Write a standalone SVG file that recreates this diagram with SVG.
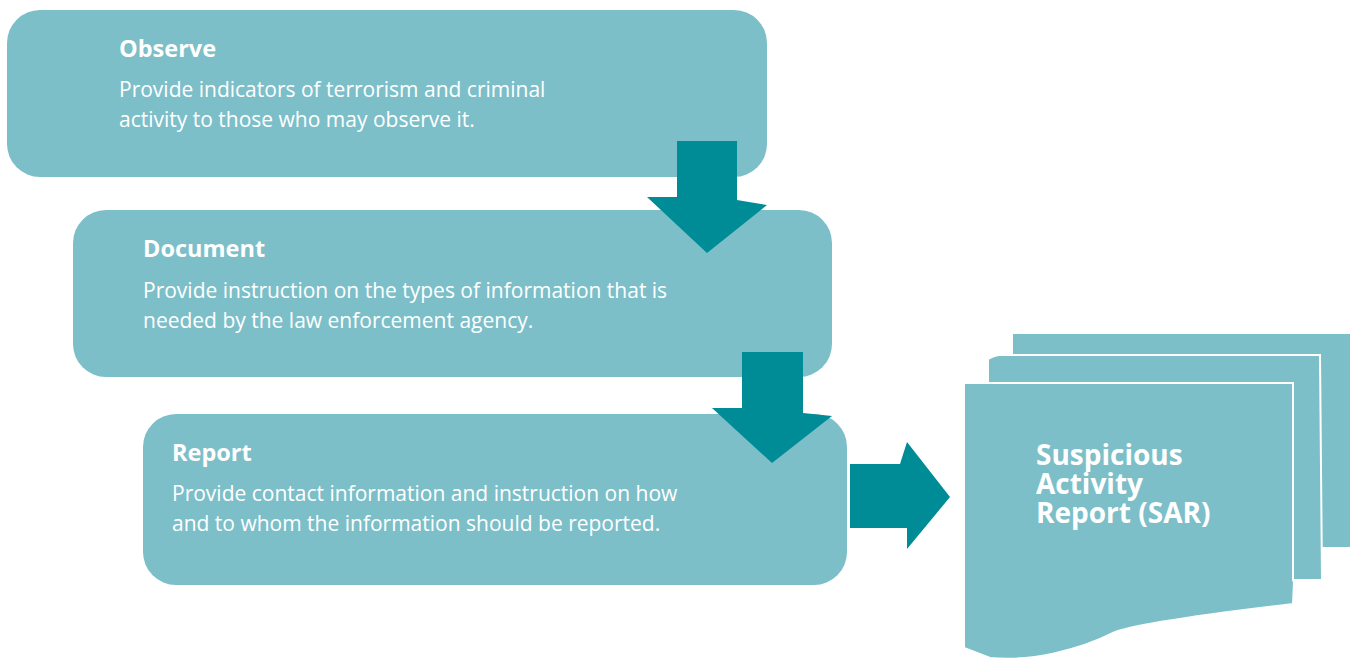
<svg xmlns="http://www.w3.org/2000/svg" width="1358" height="660" viewBox="0 0 1358 660">
<style>
.box{fill:#7CBFC9}
.arr{fill:#008C96}
.page{fill:#7CBFC9;stroke:#FFFFFF;stroke-width:2}
.h{font-family:"Open Sans","Noto Sans",sans-serif;font-weight:bold;font-size:23.5px;fill:#FFFFFF}
.t{font-family:"Open Sans","Noto Sans",sans-serif;font-size:21px;fill:#FFFFFF}
.sar{font-family:"Open Sans","Noto Sans",sans-serif;font-weight:bold;font-size:28px;fill:#FFFFFF}
</style>
<rect width="1358" height="660" fill="#FFFFFF"/>
<g id="observe">
<rect class="box" x="7" y="10" width="760" height="167" rx="33"/>
<text class="h" x="119" y="57">Observe</text>
<text class="t" x="119" y="97">Provide indicators of terrorism and criminal</text>
<text class="t" x="119" y="127">activity to those who may observe it.</text>
</g>
<g id="document">
<rect class="box" x="73" y="210" width="759" height="167" rx="33"/>
<text class="h" x="143" y="257">Document</text>
<text class="t" x="143" y="298">Provide instruction on the types of information that is</text>
<text class="t" x="143" y="328">needed by the law enforcement agency.</text>
</g>
<g id="report">
<rect class="box" x="143" y="414" width="704" height="171" rx="33"/>
<text class="h" x="172" y="461">Report</text>
<text class="t" x="172" y="501">Provide contact information and instruction on how</text>
<text class="t" x="172" y="531">and to whom the information should be reported.</text>
</g>
<g id="sar">
<path class="page" d="M1012,333 L1351,333 L1351,548 L1012,548 Z"/>
<path class="page" d="M988,359 Q995,355 1000,355 L1320,355 L1322,580 L988,580 Z"/>
<path d="M964,383 L1293,383 L1293,580 L1294,582 L1293,604 C1200,615 1130,625 1113,633 C1080,650 1030,662 990,658 L964,648 Z" fill="#7CBFC9" stroke="#FFFFFF" stroke-width="2"/>
<text class="sar" x="1036" y="465">Suspicious</text>
<text class="sar" x="1036" y="494">Activity</text>
<text class="sar" x="1036" y="523">Report (SAR)</text>
</g>
<g id="connectors">
<polygon class="arr" points="677,141 737,141 737,200 767,205 707,253 647,197 677,197"/>
<polygon class="arr" points="742,352 803,352 803,413 832,416 772,463 712,408 742,408"/>
<polygon class="arr" points="850,464 900,464 907,442 950,497 907,549 907,528 850,528"/>
</g>
</svg>
